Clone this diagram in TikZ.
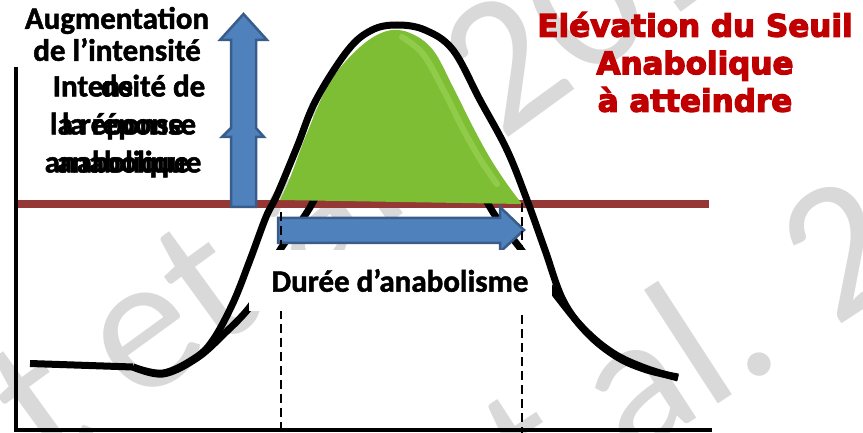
\documentclass[tikz,border=0pt]{standalone}
\usepackage{fontspec}
\setmainfont{Carlito}[BoldFeatures={FakeBold=1.5}]
\newfontfamily\redfont{DejaVu Sans}[BoldFeatures={FakeBold=4}]
\newfontfamily\wmfont{Carlito}
\definecolor{bluefill}{HTML}{4F81BD}
\definecolor{blueedge}{HTML}{385D8A}
\definecolor{brownline}{HTML}{953735}
\definecolor{greenfill}{HTML}{7EBE34}
\definecolor{greenlight}{HTML}{A6DF66}
\definecolor{redtext}{HTML}{C00000}
\definecolor{wmark}{HTML}{D9D9D9}
\begin{document}
\begin{tikzpicture}[x=1pt,y=-1pt,
  blacklbl/.style={font=\fontsize{31}{38}\selectfont\bfseries, align=center, inner sep=0pt, text=black},
  redlbl/.style={font=\redfont\fontsize{31}{37.5}\selectfont\bfseries, align=center, inner sep=0pt, text=redtext},
  wmlbl/.style={font=\wmfont\fontsize{195}{195}\selectfont, text=wmark, inner sep=0pt, anchor=base west},
  curve/.style={line width=7pt, black, line cap=butt, line join=round},
  bluearrow/.style={fill=bluefill, draw=blueedge, line width=2.5pt, line join=miter},
  dashline/.style={line width=2.5pt, black, dash pattern=on 9pt off 5pt},
  axis/.style={line width=3.5pt, black}
]
\useasboundingbox (0,0) rectangle (863,433);
\fill[white] (0,0) rectangle (863,433);
% watermark
\begin{scope}
\clip (0,0) rectangle (863,433);
\node[wmlbl, rotate=36] (wm1) at (48,472) {t et al. 201};
\node[wmlbl, rotate=33] (wm2) at (456,574) {et al. 20};
\end{scope}
% threshold
\draw[brownline, line width=8pt] (18,204) -- (709,204);
% inner curve
\draw[curve] plot[smooth, tension=0.6] coordinates {(133,367) (163,374) (197,358) (225,333) (249,308) (265,282) (280,250) (313,202) (350,120) (400,90) (450,120) (487,202) (520,248) (552,290) (583,328) (613,353) (645,368) (678,378)};
% green area
\fill[greenfill] plot[smooth, tension=0.6] coordinates {(280,200) (290,178) (307,133) (330,82) (360,47) (387,31) (410,33) (433,50) (453,87) (473,127) (490,158) (507,184) (522,204)} -- cycle;
\draw[greenlight, line width=6pt, opacity=0.45, line cap=round] plot[smooth, tension=0.6] coordinates {(402,37) (423,54) (443,89) (463,129) (480,159) (497,184)};
% vertical arrow
\draw[bluearrow] (231,207) -- (231,137) -- (222,137) -- (231,128) -- (231,40) -- (220,40) -- (243.5,14) -- (267,40) -- (256,40) -- (256,128) -- (264,137) -- (256,137) -- (256,207) -- cycle;
% horizontal arrow
\draw[bluearrow] (278,218) -- (500,218) -- (500,207) -- (524,230) -- (500,252) -- (500,243) -- (278,243) -- cycle;
% dashed lines
\draw[dashline] (281,212) -- (281,430);
\draw[dashline] (522,203) -- (522,433);
% duration label
\node[blacklbl, fill=white, minimum width=303pt, minimum height=61pt] (duree) at (400,280.5) {Durée d’anabolisme};
% outer curve
\draw[curve] plot[smooth, tension=0.6] coordinates {(133,367) (163,373) (195,358) (213,340) (233,303) (250,260) (266,217) (277,195) (297,147) (316,100) (348,50) (372,30) (397,25) (425,30) (453,50) (480,100) (507,150) (527,200) (545,250) (563,300) (587,333) (617,357) (647,370) (678,377)};
% flat start
\draw[curve] (30,363.5) -- (133,367);
% axes
\draw[axis] (16,67) -- (16,431.5);
\draw[axis, line width=4pt] (14,430) -- (712,430);
% labels
\node[blacklbl, font=\fontsize{31}{32}\selectfont\bfseries] (aug) at (117,34) {Augmentation\\de l’intensité};
\node[blacklbl] (intA) at (129,126) {Intensité de\\la réponse\\anabolique};
\node[blacklbl] (intB) at (117,126) {de\\la réponse\\anabolique};
\node[redlbl] (seuil) at (695,62) {Elévation du Seuil\\Anabolique\\à atteindre};
\end{tikzpicture}
\end{document}
